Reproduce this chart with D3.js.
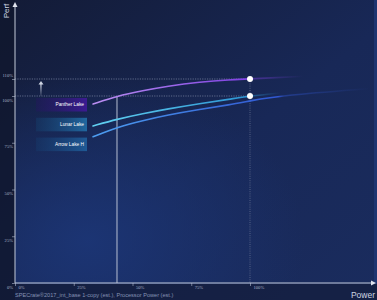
<!DOCTYPE html>
<meta charset="utf-8">
<head>
    <script src="https://d3js.org/d3.v7.min.js"></script>
    <style>
        body { margin: 0; background: #10172e; }
        svg { display: block; }
    </style>
</head>
<body>
<div id="chart"></div>
<script>

const width = 377;
const height = 300;

// data (x = processor power %, y = perf %)
const seriesNames = ["Panther Lake", "Lunar Lake", "Arrow Lake H"];
const pantherPower = [33.2, 43.4, 54.5, 64.7, 78.7, 91.5, 100, 122.6];
const pantherPerf  = [95.7, 100, 103.2, 105.8, 108.3, 109.6, 110, 111.6];
const lunarPower   = [33.2, 43.4, 54.5, 64.7, 78.7, 91.5, 100, 112.8];
const lunarPerf    = [84.0, 87.6, 90.6, 93.0, 96.0, 98.3, 100, 101.8];
const arrowPower   = [33.2, 43.4, 54.5, 64.7, 78.7, 91.5, 100, 112.8, 151];
const arrowPerf    = [78.2, 83.2, 86.9, 89.8, 92.9, 95.3, 97.4, 100.3, 104.4];

const yTicks = [0, 25, 50, 75, 100, 110];
const xTicks = [0, 25, 50, 75, 100];
const refPerf = [100, 110];
const markerPower = 100;
const isoPower = 43.4;   // where Panther Lake reaches 100%

const x = d3.scaleLinear().domain([0, 100]).range([15, 250]);
const y = d3.scaleLinear().domain([0, 100, 110]).range([283, 96, 79]);

const svg = d3.select("#chart").append("svg")
    .attr("width", width)
    .attr("height", height);

const defs = svg.append("defs");

// background
const bg = defs.append("linearGradient").attr("id", "bg")
    .attr("x1", 0).attr("y1", 0).attr("x2", 1).attr("y2", 1);
bg.append("stop").attr("offset", 0).attr("stop-color", "#131b36");
bg.append("stop").attr("offset", 0.55).attr("stop-color", "#182857");
bg.append("stop").attr("offset", 1).attr("stop-color", "#1a2c5e");

const glow = defs.append("radialGradient").attr("id", "glow")
    .attr("cx", 0.2).attr("cy", 0.85).attr("r", 0.6);
glow.append("stop").attr("offset", 0).attr("stop-color", "#1c3677").attr("stop-opacity", 0.9);
glow.append("stop").attr("offset", 1).attr("stop-color", "#1c3677").attr("stop-opacity", 0);

svg.append("rect").attr("width", width).attr("height", height).attr("fill", "url(#bg)");
svg.append("rect").attr("x", 15).attr("width", width - 15).attr("height", 284).attr("fill", "url(#glow)");
svg.append("rect").attr("width", 15).attr("height", height).attr("fill", "#10172e").attr("opacity", 0.75);
svg.append("rect").attr("y", 284).attr("width", width).attr("height", 16).attr("fill", "#121a35").attr("opacity", 0.6);
svg.append("rect").attr("x", 374).attr("width", 3).attr("height", 284).attr("fill", "#1f3570");

// reference lines
svg.selectAll(".ref").data(refPerf).enter().append("line")
    .attr("x1", x(0)).attr("x2", x(markerPower))
    .attr("y1", d => y(d)).attr("y2", d => y(d))
    .attr("stroke", "#7f8aa6").attr("stroke-width", 0.7)
    .attr("stroke-dasharray", "1.2,1.2");

svg.append("line")
    .attr("x1", x(markerPower)).attr("x2", x(markerPower))
    .attr("y1", y(110)).attr("y2", y(0))
    .attr("stroke", "#6e7a98").attr("stroke-width", 0.7)
    .attr("stroke-dasharray", "1,1.2");

svg.append("line")
    .attr("x1", x(isoPower)).attr("x2", x(isoPower))
    .attr("y1", y(100)).attr("y2", y(0))
    .attr("stroke", "#b7bfd2").attr("stroke-width", 1);

// small up arrow
const upArrow = defs.append("linearGradient").attr("id", "uparrow")
    .attr("x1", 0).attr("y1", 0).attr("x2", 0).attr("y2", 1);
upArrow.append("stop").attr("offset", 0).attr("stop-color", "#d0d6e4");
upArrow.append("stop").attr("offset", 1).attr("stop-color", "#d0d6e4").attr("stop-opacity", 0.1);
svg.append("rect").attr("x", 40.3).attr("y", y(110) + 5).attr("width", 1.3)
    .attr("height", y(100) - y(110) - 5).attr("fill", "url(#uparrow)");
svg.append("path")
    .attr("d", `M${38.5},${y(110) + 5.5} L${41},${y(110) + 2} L${43.5},${y(110) + 5.5} Z`)
    .attr("fill", "#d0d6e4");

// axes
const yAxis = svg.append("g")
    .attr("transform", `translate(${x(0)},0)`)
    .call(d3.axisLeft(y).tickValues(yTicks).tickSize(3).tickFormat(d => d + "%"));
yAxis.select(".domain").remove();
yAxis.selectAll("line").attr("stroke", "#b0b8cc").attr("stroke-width", 0.6);
yAxis.selectAll("text")
    .attr("x", -2).attr("dy", d => d === 110 ? "-0.6em" : "1.1em")
    .attr("fill", "#a9b2c8").style("font-size", "4.6px").style("font-family", "Liberation Serif, serif");

const xAxis = svg.append("g")
    .attr("transform", `translate(0,${y(0)})`)
    .call(d3.axisBottom(x).tickValues(xTicks).tickSize(3).tickFormat(d => d + "%"));
xAxis.select(".domain").remove();
xAxis.selectAll("line").attr("stroke", "#b0b8cc").attr("stroke-width", 0.6);
xAxis.selectAll("text")
    .attr("x", 3).attr("y", 2.5).attr("text-anchor", "start")
    .attr("fill", "#a9b2c8").style("font-size", "4.6px").style("font-family", "Liberation Serif, serif");

svg.append("line").attr("x1", x(0)).attr("x2", x(0)).attr("y1", 6).attr("y2", y(0))
    .attr("stroke", "#c3cad9").attr("stroke-width", 1);
svg.append("path").attr("d", `M${x(0) - 2.5},7 L${x(0)},2 L${x(0) + 2.5},7 Z`).attr("fill", "#e0e4ee");
svg.append("line").attr("x1", x(0)).attr("x2", 371).attr("y1", y(0)).attr("y2", y(0))
    .attr("stroke", "#c3cad9").attr("stroke-width", 1);
svg.append("path").attr("d", `M371,${y(0) - 2.5} L376,${y(0)} L371,${y(0) + 2.5} Z`).attr("fill", "#e0e4ee");

// axis titles
svg.append("text")
    .attr("transform", "translate(8.5,11) rotate(-90)")
    .attr("text-anchor", "middle")
    .attr("fill", "#cfd5e3").style("font-size", "8px").style("font-family", "Liberation Sans, sans-serif")
    .text("Perf");
svg.append("text")
    .attr("x", 375).attr("y", 298).attr("text-anchor", "end")
    .attr("fill", "#cfd5e3").style("font-size", "8.5px").style("font-family", "Liberation Sans, sans-serif")
    .text("Power");
svg.append("text")
    .attr("x", 15).attr("y", 296.5)
    .attr("fill", "#8593b3").style("font-size", "5.6px").style("font-family", "Liberation Sans, sans-serif")
    .text("SPECrate®2017_int_base 1-copy (est.), Processor Power (est.)");

// curves
const series = [
    { name: seriesNames[0], xs: pantherPower, ys: pantherPerf, c1: "#bb8ff2", c2: "#7d3fe2", fadeFrom: 100 },
    { name: seriesNames[1], xs: lunarPower, ys: lunarPerf, c1: "#62d2f2", c2: "#2b93d2", fadeFrom: 100 },
    { name: seriesNames[2], xs: arrowPower, ys: arrowPerf, c1: "#4d9ef0", c2: "#3056d2", fadeFrom: 112 }
];

const line = d3.line()
    .x(d => x(d[0]))
    .y(d => y(d[1]))
    .curve(d3.curveBasis);

series.forEach(function(s, i) {
    const pts = s.xs.map((v, j) => [v, s.ys[j]]);
    const x0 = x(s.xs[0]), x1 = x(s.xs[s.xs.length - 1]);
    const fadeAt = (x(s.fadeFrom) - x0) / (x1 - x0);
    const g = defs.append("linearGradient").attr("id", "line" + i)
        .attr("gradientUnits", "userSpaceOnUse")
        .attr("x1", x0).attr("x2", x1).attr("y1", 0).attr("y2", 0);
    g.append("stop").attr("offset", 0).attr("stop-color", s.c1);
    g.append("stop").attr("offset", fadeAt).attr("stop-color", s.c2);
    g.append("stop").attr("offset", fadeAt + 0.02).attr("stop-color", s.c2).attr("stop-opacity", 0.45);
    g.append("stop").attr("offset", 1).attr("stop-color", s.c2).attr("stop-opacity", 0);

    svg.append("path")
        .datum(pts)
        .attr("d", line)
        .attr("fill", "none")
        .attr("stroke", "url(#line" + i + ")")
        .attr("stroke-width", 1.6)
        .attr("stroke-linecap", "round");
});

// end markers
svg.selectAll(".dot").data(refPerf).enter().append("circle")
    .attr("cx", x(markerPower)).attr("cy", d => y(d)).attr("r", 3)
    .attr("fill", "#ffffff");

// labels
const boxColors = [["#241660", "#3c1b92"], ["#15406e", "#2168a0"], ["#163b6d", "#1f5a96"]];
boxColors.forEach(function(c, i) {
    const g = defs.append("linearGradient").attr("id", "box" + i)
        .attr("x1", 0).attr("x2", 1).attr("y1", 0).attr("y2", 0);
    g.append("stop").attr("offset", 0).attr("stop-color", c[0]).attr("stop-opacity", 0.4);
    g.append("stop").attr("offset", 1).attr("stop-color", c[1]);
});

const labels = svg.selectAll(".label").data(series).enter().append("g")
    .attr("transform", (d, i) => `translate(36,${98 + i * 19.8})`);
labels.append("rect")
    .attr("width", 51).attr("height", 13.5)
    .attr("fill", (d, i) => `url(#box${i})`);
labels.append("text")
    .attr("x", 48).attr("y", 8.3).attr("text-anchor", "end")
    .attr("fill", "#ffffff").style("font-size", "4.8px").style("font-family", "Liberation Sans, sans-serif")
    .text(d => d.name);

</script>
</body>
